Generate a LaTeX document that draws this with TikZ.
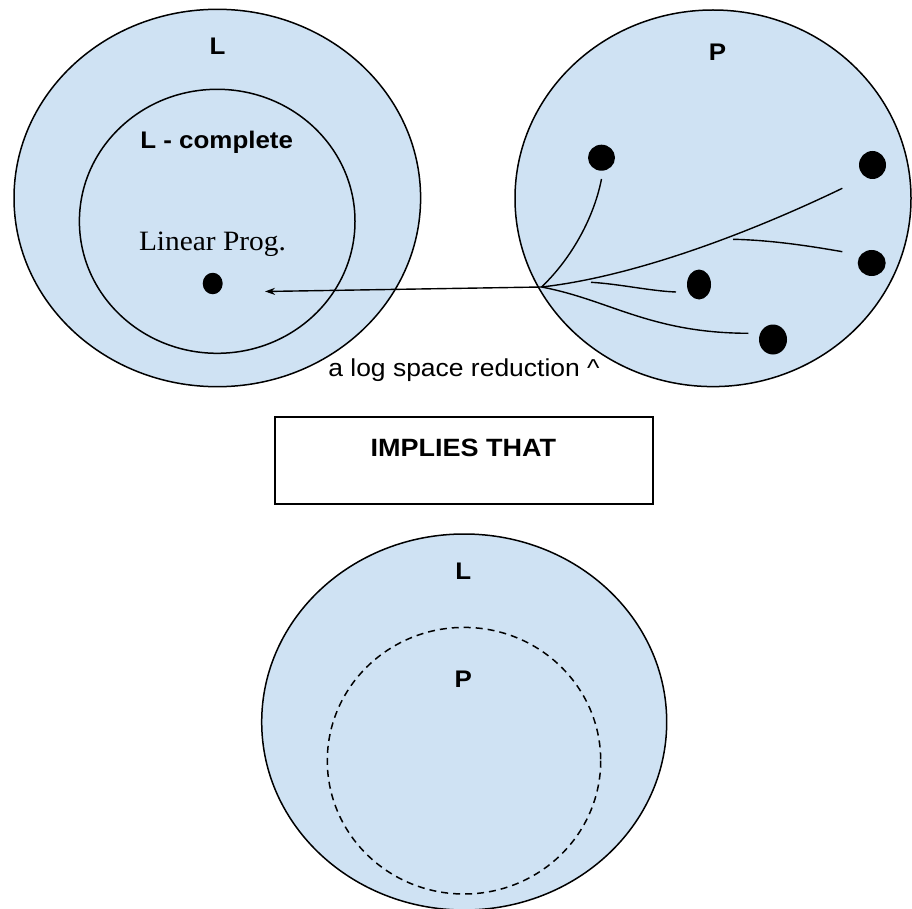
\documentclass[tikz,border=0pt]{standalone}
\usepackage{fontspec}
\setmainfont{Liberation Sans}[FakeStretch=1.08]
\newfontfamily\serifface{Liberation Serif}[FakeStretch=1.05]
\usetikzlibrary{shapes.geometric,arrows.meta}
\definecolor{setfill}{HTML}{CFE2F3}
\tikzset{
  setbody/.style={draw=black, fill=setfill, line width=1.5pt},
  subset/.style={draw=black, line width=1.5pt},
  boldlabel/.style={font=\fontsize{24}{26}\selectfont\bfseries, inner sep=0pt},
  dot/.style={ellipse, fill=black, draw=none, inner sep=0pt},
  wire/.style={line width=1.4pt},
}
\begin{document}
\begin{tikzpicture}[x=1pt, y=-1pt]
  \useasboundingbox (0,0) rectangle (912,909);

  % upper left: the class L with its L-complete part
  \draw[setbody] (217.3,198) ellipse [x radius=203.3, y radius=188.7];
  \draw[subset] (217.2,221.3) ellipse [x radius=137.8, y radius=132];
  \node[boldlabel] (lL) at (217.5,46.5) {L};
  \node[boldlabel] (lLc) at (216.7,142.7) {L - complete};
  \node[inner sep=0pt, font=\serifface\fontsize{28}{31}\selectfont] (lp) at (212.5,244) {Linear Prog.};
  \node[dot, minimum width=20pt, minimum height=21.5pt] (lpdot) at (212.7,283.5) {};

  % upper right: the class P
  \draw[setbody] (713,198.3) ellipse [x radius=198, y radius=188.3];
  \node[boldlabel] (pL) at (717.5,52) {P};
  \node[dot, minimum width=27pt, minimum height=26pt] (d1) at (601.5,157.7) {};
  \node[dot, minimum width=27pt, minimum height=28pt] (d2) at (872.5,165) {};
  \node[dot, minimum width=28pt, minimum height=26pt] (d3) at (871.7,263) {};
  \node[dot, minimum width=24pt, minimum height=30pt] (d4) at (699,284.5) {};
  \node[dot, minimum width=28pt, minimum height=30pt] (d5) at (773,339.5) {};

  % reduction tree gathered in one point
  \coordinate (hub) at (541.5,287);
  \coordinate (e1) at (601.5,179);
  \coordinate (e2) at (842.3,188.3);
  \coordinate (fork) at (733,239.3);
  \coordinate (e3) at (842.3,251.7);
  \coordinate (split) at (591,282.3);
  \coordinate (e4) at (676,292);
  \coordinate (e5) at (748.3,333.3);
  \coordinate (tip) at (265,291.5);

  \draw[wire] (hub) .. controls (568,262) and (593,222) .. (e1);
  \draw[wire] (hub) .. controls (640,276) and (760,228) .. (e2);
  \draw[wire] (fork) .. controls (770,240) and (810,246) .. (e3);
  \draw[wire] (split) .. controls (620,284) and (650,291) .. (e4);
  \draw[wire] (hub) .. controls (610,300) and (650,333) .. (e5);
  \draw[wire, -{Stealth[length=10pt, width=7pt]}] (hub) -- (tip);

  \node[inner sep=0pt, font=\fontsize{24.5}{27}\selectfont] (red) at (464,370) {a log space reduction \^{}};

  % middle box
  \node[draw=black, line width=1.5pt, minimum width=377.7pt, minimum height=87.3pt, inner sep=0pt] (box) at (463.9,460.4) {};
  \node[boldlabel, font=\fontsize{25}{28}\selectfont\bfseries] (impl) at (463.3,448.3) {IMPLIES THAT};

  % bottom: P contained in L
  \draw[setbody] (464.2,722) ellipse [x radius=202.5, y radius=188];
  \draw[line width=1.5pt, dashed, dash pattern=on 7pt off 5pt] (464,760.7) ellipse [x radius=136.7, y radius=133.3];
  \node[boldlabel] (bL) at (463.3,571.7) {L};
  \node[boldlabel] (bP) at (463.3,679.3) {P};
\end{tikzpicture}
\end{document}
